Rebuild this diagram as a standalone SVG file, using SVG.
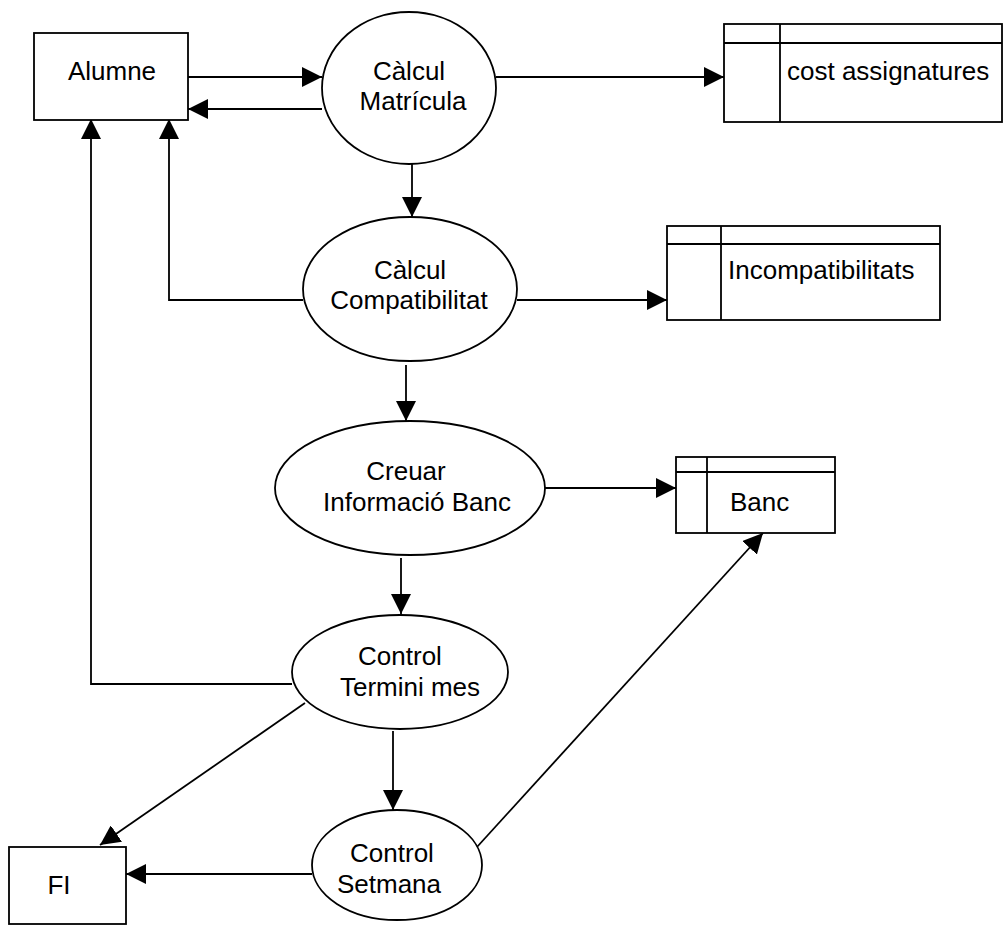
<svg xmlns="http://www.w3.org/2000/svg" width="1005" height="927" viewBox="0 0 1005 927">
<style>
.s{fill:#fff;stroke:#000;stroke-width:1.8}
.l{fill:none;stroke:#000;stroke-width:1.8}
.c{fill:none;stroke:#000;stroke-width:1.8;marker-end:url(#ah)}
text{font-family:"Liberation Sans",Arial,Helvetica,sans-serif;font-size:26px;fill:#000}
.m{text-anchor:middle}
</style>
<defs>
<marker id="ah" markerUnits="userSpaceOnUse" markerWidth="20" markerHeight="20" refX="20" refY="10" orient="auto">
<path d="M0,0 L20,10 L0,20 z" fill="#000"/>
</marker>
</defs>
<rect width="1005" height="927" fill="#fff"/>
<g id="connectors">
<line class="c" x1="188" y1="77" x2="322" y2="77"/>
<line class="c" x1="322" y1="109" x2="188" y2="109"/>
<line class="c" x1="412" y1="164" x2="412" y2="217"/>
<polyline class="c" points="303,300 169,300 169,119"/>
<polyline class="c" points="292,684 91,684 91,119"/>
<line class="c" x1="496" y1="77" x2="724" y2="77"/>
<line class="c" x1="517" y1="300" x2="667" y2="300"/>
<line class="c" x1="406" y1="365" x2="406" y2="421"/>
<line class="c" x1="545" y1="488" x2="676" y2="488"/>
<line class="c" x1="401" y1="558" x2="401" y2="614"/>
<line class="c" x1="393" y1="731" x2="393" y2="810"/>
<line class="c" x1="477" y1="847" x2="763" y2="533"/>
<line class="c" x1="305" y1="703" x2="100" y2="845"/>
<line class="c" x1="312" y1="874" x2="126" y2="874"/>
</g>
<g id="alumne">
<rect class="s" x="34" y="33" width="154" height="87"/>
<text class="m" x="112" y="80">Alumne</text>
</g>
<g id="calcul-matricula">
<ellipse class="s" cx="409" cy="88" rx="87" ry="76"/>
<text class="m" x="409" y="80">Càlcul</text>
<text class="m" x="413" y="110">Matrícula</text>
</g>
<g id="cost-assignatures">
<rect class="s" x="724" y="24" width="278" height="98"/>
<line class="l" x1="724" y1="43" x2="1002" y2="43"/>
<line class="l" x1="780" y1="24" x2="780" y2="122"/>
<text x="787" y="80">cost assignatures</text>
</g>
<g id="calcul-compatibilitat">
<ellipse class="s" cx="410" cy="289" rx="107" ry="72"/>
<text class="m" x="410" y="279">Càlcul</text>
<text class="m" x="409" y="309">Compatibilitat</text>
</g>
<g id="incompatibilitats">
<rect class="s" x="667" y="226" width="273" height="94"/>
<line class="l" x1="667" y1="244" x2="940" y2="244"/>
<line class="l" x1="721" y1="226" x2="721" y2="320"/>
<text x="728" y="279">Incompatibilitats</text>
</g>
<g id="creuar-informacio-banc">
<ellipse class="s" cx="410" cy="488" rx="135" ry="67"/>
<text class="m" x="406" y="480">Creuar</text>
<text class="m" x="417" y="511">Informació Banc</text>
</g>
<g id="banc">
<rect class="s" x="676" y="457" width="159" height="76"/>
<line class="l" x1="676" y1="472" x2="835" y2="472"/>
<line class="l" x1="707" y1="457" x2="707" y2="533"/>
<text x="730" y="511">Banc</text>
</g>
<g id="control-termini-mes">
<ellipse class="s" cx="400" cy="672" rx="108" ry="57"/>
<text class="m" x="400" y="665">Control</text>
<text class="m" x="410" y="696">Termini mes</text>
</g>
<g id="control-setmana">
<ellipse class="s" cx="397" cy="865" rx="85" ry="55"/>
<text class="m" x="392" y="862">Control</text>
<text class="m" x="389" y="893">Setmana</text>
</g>
<g id="fi">
<rect class="s" x="9" y="847" width="117" height="77"/>
<text class="m" x="59" y="894">FI</text>
</g>
</svg>
